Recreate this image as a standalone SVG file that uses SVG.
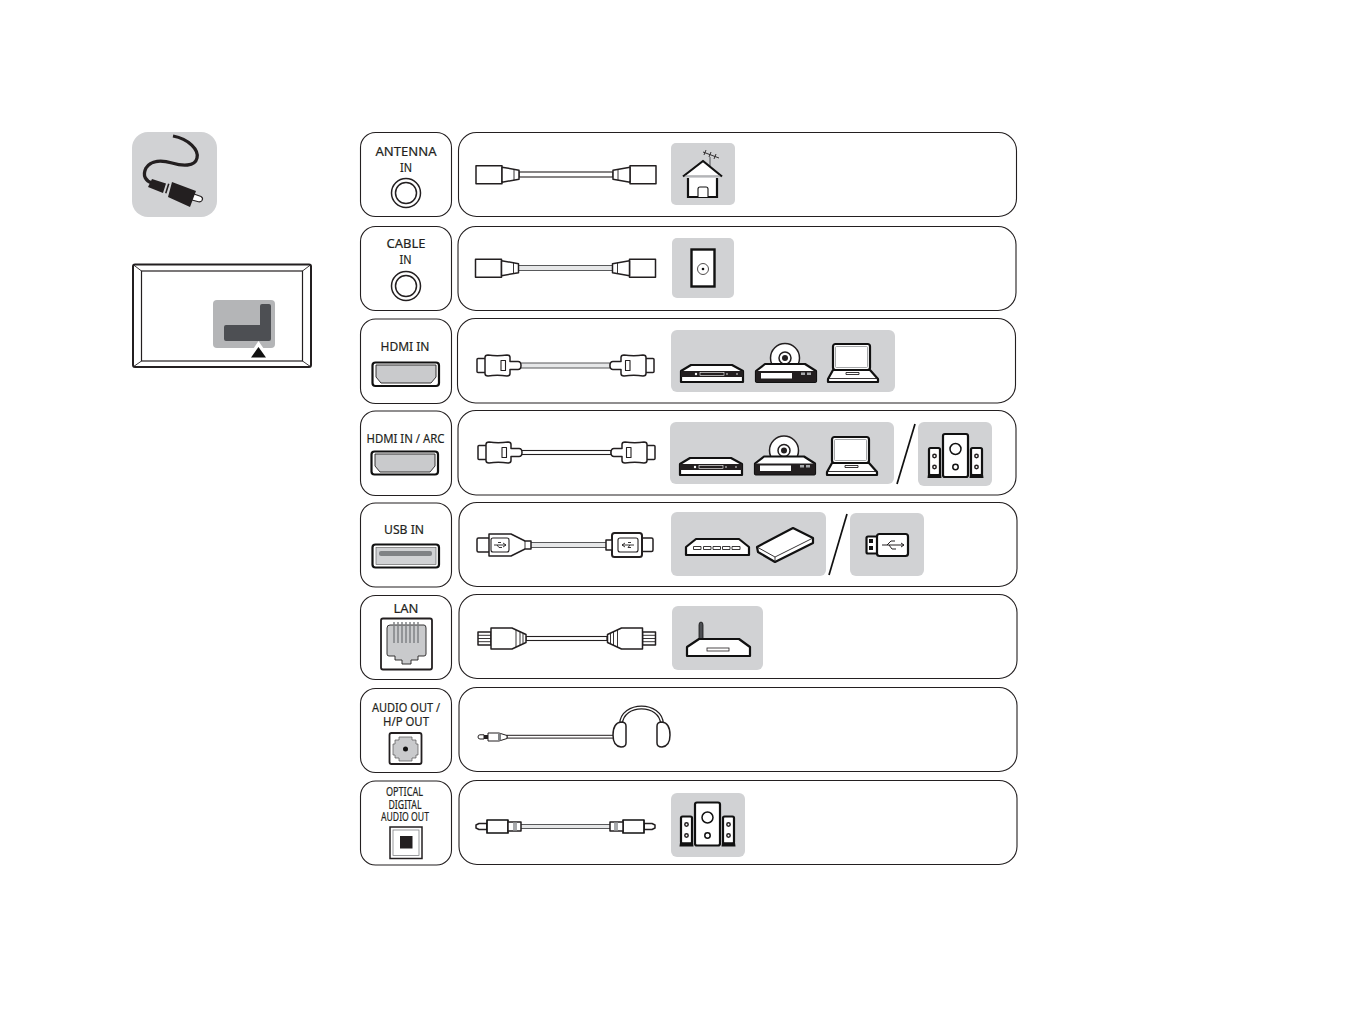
<svg xmlns="http://www.w3.org/2000/svg" xmlns:xlink="http://www.w3.org/1999/xlink" width="1365" height="1013" viewBox="0 0 1365 1013">
<style>
text{font-family:"Noto Sans","Open Sans","Liberation Sans",sans-serif;font-size:13px;font-weight:400;fill:#231f20;text-anchor:middle;stroke:#231f20;stroke-width:.2}
.box{fill:#fff;stroke:#231f20;stroke-width:1.1}
.panel{fill:#d1d2d4}
.k{fill:#fff;stroke:#231f20;stroke-width:1.5;stroke-linejoin:round}
.kk{fill:#fff;stroke:#111;stroke-width:2.2;stroke-linejoin:round}
.g{fill:#c9cacc;stroke:#231f20;stroke-width:.9}
.thin{fill:none;stroke:#231f20;stroke-width:.9}
.wire{fill:#fff;stroke:#231f20;stroke-width:1.1}
.wireg{fill:#e6e7e8;stroke:#58595b;stroke-width:1}
.slash{stroke:#111;stroke-width:1.7;fill:none}
</style>
<defs>
<g id="coax"><rect class="k" x="0" y="-9" width="26" height="18"/><path class="k" d="M26-7.500L43-4.500V4.500L26 7.500Z"/><path class="thin" d="M38-5.500V5.500"/></g>
<g id="hdmi"><rect class="k" x="0" y="-7" width="9" height="14" rx="1"/><path class="k" d="M8-8Q8-10.500 11-10.500Q20-9 30-10.500Q33-10.500 33-8V-4H41Q44-4 44 0Q44 4 41 4H33V8Q33 10.500 30 10.500Q20 9 11 10.500Q8 10.500 8 8Z"/><rect class="k" style="stroke-width:1.100" x="24" y="-5" width="4.500" height="10"/></g>
<g id="usb"><rect class="k" x="0" y="-7" width="13" height="14" rx="1.500"/><path class="k" d="M12-11H34L48-4H54V4H48L34 11H12Z"/><path class="thin" d="M48-4V4"/><rect class="k" style="stroke-width:1.100" x="14" y="-7" width="18" height="14" rx="2"/><path class="thin" d="M17 0H29M26-2L29 0L26 2M21-2.500H24M20 0L22 2.500H25"/></g>
<g id="lan"><path class="k" d="M0-6.500H13V6.500H0Z"/><path class="thin" d="M0-3.200H13M0 0H13M0 3.200H13"/><path class="k" d="M13-10.500H34L48-4V4L34 10.500H13Z"/><path class="thin" d="M38-8.500V8.500M42-6.500V6.500M45-5V5"/></g>
<g id="opt"><path class="k" d="M0-1.500L3-3H11V3H3L0 1.500Z"/><path class="kk" d="M11-6.500H32V6.500H11Z" style="stroke-width:1.700"/><path class="k" d="M32-4.500H45V4.500H32Z"/><rect x="37" y="-4" width="4" height="8" fill="#a7a9ac"/></g>
<g id="dvd"><path class="kk" d="M1 7L11 1H52L63 7V18H1Z"/><path fill="#231f20" d="M1 7H63V13H1Z"/><rect x="20" y="8.500" width="24" height="3" fill="none" stroke="#fff" stroke-width=".6"/><circle cx="16" cy="10" r="1.200" fill="#fff"/><circle cx="47" cy="10" r=".8" fill="#fff"/><circle cx="57" cy="10" r=".8" fill="#fff"/></g>
<g id="disc"><circle class="k" cx="30" cy="15" r="14.500"/><circle class="k" cx="30" cy="15" r="6"/><circle fill="#231f20" cx="30" cy="15" r="3"/><path class="kk" d="M1 28L10 21H50L61 28V38Q61 39 59 39H3Q1 39 1 38Z"/><path d="M1 28H61V39H1Z" fill="#231f20"/><rect x="6" y="30" width="31" height="5.500" fill="#fff"/><rect x="46" y="29.500" width="4" height="2.500" fill="#a7a9ac"/><rect x="52" y="29.500" width="4" height="2.500" fill="#a7a9ac"/></g>
<g id="laptop"><rect x="6" y="1" width="37" height="26" rx="2.500" class="kk"/><rect x="8.500" y="3.500" width="32" height="21" rx="1" fill="none" stroke="#808285" stroke-width=".7"/><path class="kk" d="M6 27H43L51 36V39H1V36Z"/><path class="thin" d="M2 35.500H50M19 29.500H32V31.500H19Z"/></g>
<g id="speakers"><rect class="kk" x="15" y="0" width="25" height="43" rx="2"/><circle class="kk" style="stroke-width:1.500" cx="27.500" cy="15" r="5.500"/><circle class="kk" style="stroke-width:1.500" cx="27.500" cy="33" r="2.700"/><rect class="kk" x="1" y="14" width="11" height="27" rx="1.500"/><rect class="kk" x="43" y="14" width="11" height="27" rx="1.500"/><circle class="k" cx="6.500" cy="22" r="1.700"/><circle class="k" cx="6.500" cy="33" r="1.700"/><circle class="k" cx="48.500" cy="22" r="1.700"/><circle class="k" cx="48.500" cy="33" r="1.700"/><path fill="#111" d="M0 40H13L13.500 44H-.5ZM42 40H55L55.500 44H41.500Z"/></g>
</defs>

<g id="cable-icon">
<rect class="panel" x="132" y="132" width="85" height="85" rx="16"/>
<path d="M173 136C189 139 199 150 197 158C195 167 182 166 172 163C162 160 151 160 146 168C142 176 146 181 152 183" fill="none" stroke="#231f20" stroke-width="3.300"/>
<path d="M194 194L201 196.500Q203.500 198 202 200.500Q200.500 202.500 197.500 201.500L192 200" fill="#fff" stroke="#231f20" stroke-width="1.100"/>
<path fill="#231f20" d="M148 187L152 179L166 183.500L163 193ZM166.500 193.500L169.500 184L168 183.500L165 193ZM168 197L172 182L196 191L190 207Z"/>
</g>
<g id="tv-position">
<rect x="133" y="264.500" width="178" height="102.500" rx="2" fill="#fff" stroke="#231f20" stroke-width="2"/>
<rect x="141.500" y="271" width="161" height="90" fill="#fff" stroke="#231f20" stroke-width="1.200"/>
<path class="thin" d="M133 264.500L141.500 271M311 264.500L302.500 271M133 367L141.500 361M311 367L302.500 361"/>
<rect x="213" y="300" width="62" height="48" rx="4" fill="#b4b5b7"/>
<path d="M226 325H260V306Q260 304 262 304H269Q271 304 271 306V339Q271 341 269 341H226Q224 341 224 339V327Q224 325 226 325Z" fill="#4d4f53"/>
<path d="M258.500 341L270 358H247Z" fill="#fff"/>
<path d="M258.500 347L266 357.500H251Z" fill="#111"/>
</g>

<g id="port-antenna"><rect class="box" x="360.500" y="132.500" width="91" height="84" rx="15"/><text x="406" y="156" textLength="61" lengthAdjust="spacingAndGlyphs">ANTENNA</text><text x="406" y="171.500" textLength="12" lengthAdjust="spacingAndGlyphs">IN</text><circle class="k" cx="406" cy="193" r="14.500"/><circle class="k" cx="406" cy="193" r="10.500"/></g>
<g id="port-cable"><rect class="box" x="360.500" y="226.500" width="91" height="84" rx="15"/><text x="406" y="247.500" textLength="39" lengthAdjust="spacingAndGlyphs">CABLE</text><text x="405.500" y="263.500" textLength="12" lengthAdjust="spacingAndGlyphs">IN</text><circle class="k" cx="406" cy="286" r="14.500"/><circle class="k" cx="406" cy="286" r="10.500"/></g>
<g id="port-hdmi"><rect class="box" x="360.500" y="319" width="91" height="84.500" rx="15"/><text x="405" y="350.500" textLength="49" lengthAdjust="spacingAndGlyphs">HDMI IN</text><rect x="372.500" y="362.500" width="66.500" height="23.500" rx="3" class="kk"/><path class="g" d="M376 365H436V377L431 383H381L376 377Z"/></g>
<g id="port-hdmi-arc"><rect class="box" x="360.500" y="411" width="91" height="84.500" rx="15"/><text x="405.500" y="442.500" textLength="78" lengthAdjust="spacingAndGlyphs">HDMI IN / ARC</text><rect x="371.500" y="451.500" width="66.500" height="23" rx="3" class="kk"/><path class="g" d="M375 454H435V466L430 472H380L375 466Z"/></g>
<g id="port-usb"><rect class="box" x="360.500" y="503" width="91" height="84" rx="15"/><text x="404" y="534" textLength="40" lengthAdjust="spacingAndGlyphs">USB IN</text><rect x="372.500" y="544.500" width="66.500" height="23" rx="3" class="kk"/><rect x="376" y="547.500" width="60" height="17" fill="#d1d2d4" stroke="#555" stroke-width=".6"/><rect x="379" y="551" width="53" height="5" rx="2" fill="#808285"/></g>
<g id="port-lan"><rect class="box" x="360.500" y="595.500" width="91" height="84" rx="15"/><text x="406" y="612.500" textLength="25" lengthAdjust="spacingAndGlyphs">LAN</text><rect x="381" y="618.500" width="51" height="51" rx="2" class="k" style="stroke-width:1.800"/><path class="g" d="M390 625H424Q426 625 426 628V654Q426 656 424 656H418V660H411V664H402V660H395V656H389Q387 656 387 654V628Q387 625 390 625Z"/><path d="M394 622V643M398 622V643M402 622V643M406 622V643M410 622V643M414 622V643M418 622V643" stroke="#808285" stroke-width="1.500" fill="none"/></g>
<g id="port-audio"><rect class="box" x="360.500" y="688.500" width="91" height="84" rx="15"/><text x="406" y="711.500" textLength="68" lengthAdjust="spacingAndGlyphs">AUDIO OUT /</text><text x="406" y="725.500" textLength="46" lengthAdjust="spacingAndGlyphs">H/P OUT</text><rect x="389.500" y="733" width="32" height="31" rx="2" class="k" style="stroke-width:1.800"/><path fill="#c9cacc" stroke="#555" stroke-width=".7" d="M399 737H412V740H416V744H418V755H416V758H412V761H399V758H395V755H393V744H395V740H399Z"/><circle cx="405.500" cy="749" r="2.500" fill="#111"/></g>
<g id="port-optical"><rect class="box" x="360.500" y="781" width="91" height="84" rx="15"/><text x="404.500" y="796" textLength="37" lengthAdjust="spacingAndGlyphs">OPTICAL</text><text x="405" y="808.500" textLength="33" lengthAdjust="spacingAndGlyphs">DIGITAL</text><text x="405" y="821" textLength="48" lengthAdjust="spacingAndGlyphs">AUDIO OUT</text><rect x="390" y="827" width="32" height="31.500" fill="#fff" stroke="#231f20" stroke-width="1.500"/><rect x="393" y="830" width="26" height="25.500" fill="#fff" stroke="#808285" stroke-width=".8"/><rect x="400" y="836" width="12.500" height="12.500" fill="#231f20"/></g>

<g id="row-antenna"><rect class="box" x="458.500" y="132.500" width="558" height="84" rx="18"/><rect class="panel" x="671" y="143" width="64" height="62" rx="5"/>
<path d="M710 176V157" stroke="#808285" stroke-width="1.600"/><path class="thin" d="M703 152L719 158M706 150L704 155M711 152L709 157M716 154L714 159"/>
<path d="M688 178V197H717V178" fill="#fff" stroke="#111" stroke-width="2.200"/><path d="M683 176.500L703 161L722 176.500" fill="#fff" stroke="#111" stroke-width="2.200" stroke-linejoin="round"/><path d="M685 176H720" stroke="#808285" stroke-width="1.200"/><path d="M698 197V189Q698 187 700 187H706Q708 187 708 189V197" fill="#fff" stroke="#111" stroke-width="1.100"/></g>
<g id="row-cable"><rect class="box" x="458" y="226.500" width="558" height="84" rx="18"/><rect class="panel" x="672" y="238" width="62" height="60" rx="5"/><rect x="691.500" y="249.500" width="23" height="37" fill="#fff" stroke="#111" stroke-width="2.400"/><circle cx="703" cy="269" r="5.500" fill="#fff" stroke="#231f20" stroke-width=".8"/><circle cx="703" cy="269" r="1.300" fill="#111"/></g>
<g id="row-hdmi"><rect class="box" x="457.500" y="318.500" width="558" height="84.500" rx="18"/><rect class="panel" x="671" y="330" width="224" height="62" rx="6"/><use xlink:href="#dvd" href="#dvd" x="680" y="364"/><use xlink:href="#disc" href="#disc" x="755" y="343"/><use xlink:href="#laptop" href="#laptop" x="827" y="343"/></g>
<g id="row-hdmi-arc"><rect class="box" x="458" y="410.500" width="558" height="84.500" rx="18"/><rect class="panel" x="670" y="422" width="224" height="62" rx="6"/><use xlink:href="#dvd" href="#dvd" x="679" y="457"/><use xlink:href="#disc" href="#disc" x="754" y="435.500"/><use xlink:href="#laptop" href="#laptop" x="826" y="436"/><path class="slash" d="M897 484L915 424"/><rect class="panel" x="918" y="422" width="74" height="64" rx="6"/><use xlink:href="#speakers" href="#speakers" x="928" y="434"/></g>
<g id="row-usb"><rect class="box" x="459" y="502.500" width="558" height="84" rx="18"/><rect class="panel" x="671" y="512" width="155" height="64" rx="6"/><path class="kk" d="M686 547L696 539H739L749 547V555H686Z"/><path class="thin" d="M693.500 546.500H701V549.500H693.500ZM703.500 546.500H711V549.500H703.500ZM713 546.500H720.500V549.500H713ZM722.500 546.500H730V549.500H722.500ZM732 546.500H740V549.500H732Z"/><path class="kk" d="M757 547L793 528L813 538V543L775 562L758 552Z"/><path class="thin" d="M757 547L775 557L813 538M775 557V562"/><path class="slash" d="M829 575L847 514"/><rect class="panel" x="850" y="513" width="74" height="63" rx="6"/><rect class="kk" x="866.500" y="536.500" width="12" height="17" rx="1.500"/><rect x="869" y="539" width="4" height="4" fill="#111"/><rect x="869" y="546" width="4" height="4" fill="#111"/><rect class="kk" x="877" y="534" width="31" height="22" rx="2.500"/><path fill="none" stroke="#231f20" d="M882 545H904M901 543L904 545L901 547M887 545L891 541H895M889 545L892 549H896"/></g>
<g id="row-lan"><rect class="box" x="459" y="594.500" width="558" height="84" rx="18"/><rect class="panel" x="672" y="606" width="91" height="64" rx="6"/><path d="M699 640V625Q699 622 701 622Q703 622 703 625V640Z" fill="#4d4f53" stroke="#111" stroke-width=".8"/><path class="kk" d="M687 647L699 639H739L750 647V656H687Z"/><rect x="707" y="648" width="22" height="3" fill="#fff" stroke="#231f20" stroke-width=".8"/></g>
<g id="row-audio"><rect class="box" x="459" y="687.500" width="558" height="84" rx="18"/></g>
<g id="row-optical"><rect class="box" x="459" y="780.500" width="558" height="84" rx="18"/><rect class="panel" x="671" y="793" width="74" height="64" rx="6"/><use xlink:href="#speakers" href="#speakers" x="680" y="802.500"/></g>

<g id="connectors">
<rect class="wire" x="519" y="172" width="94" height="5"/><use href="#coax" xlink:href="#coax" x="476" y="174.700"/><use href="#coax" xlink:href="#coax" transform="translate(656 174.700) scale(-1 1)"/>
<rect class="wireg" x="518" y="265.500" width="95" height="5"/><use href="#coax" xlink:href="#coax" x="475.500" y="268.200"/><use href="#coax" xlink:href="#coax" transform="translate(655.500 268.200) scale(-1 1)"/>
<rect class="wireg" x="520" y="363" width="90" height="5"/><use href="#hdmi" xlink:href="#hdmi" x="477" y="365.500"/><use href="#hdmi" xlink:href="#hdmi" transform="translate(654 365.500) scale(-1 1)"/>
<rect class="wire" x="521" y="450.500" width="90" height="4"/><use href="#hdmi" xlink:href="#hdmi" x="478" y="452.500"/><use href="#hdmi" xlink:href="#hdmi" transform="translate(655 452.500) scale(-1 1)"/>
<rect class="wireg" x="530" y="542.500" width="77" height="5"/><use href="#usb" xlink:href="#usb" x="477" y="545"/><rect class="k" x="640" y="538" width="13" height="13.500" rx="1.500"/><rect class="k" x="612" y="533" width="30" height="24" rx="2.500" style="stroke-width:2"/><path class="k" d="M606 540H612V550H606Z"/><rect class="k" style="stroke-width:1.100" x="618" y="538" width="20" height="14" rx="2"/><path class="thin" d="M622 545H634M625 543L622 545L625 547M628 542.500H631M630 545L628 547.500H631"/>
<rect class="wire" x="526" y="636.500" width="81" height="4"/><use href="#lan" xlink:href="#lan" x="478" y="638.500"/><use href="#lan" xlink:href="#lan" transform="translate(655.500 638.500) scale(-1 1)"/>
<rect x="507" y="735.300" width="107" height="2.800" fill="#fff" stroke="#231f20" stroke-width="1"/><path class="k" style="stroke-width:1" d="M480 734.800H484V739H480Q478 739 478 737Q478 734.800 480 734.800Z"/><rect x="484" y="735" width="4" height="4" fill="#231f20"/><path class="k" style="stroke-width:1" d="M488 733H499L507 735.500V738.500L499 741H488Z"/><rect x="498" y="733.500" width="3" height="7" fill="#808285"/>
<path d="M621 724C622 702 661 702 662 724" fill="none" stroke="#231f20" stroke-width="4"/><path d="M621 724C622 702 661 702 662 724" fill="none" stroke="#fff" stroke-width="1.500"/><path class="k" d="M621 722Q626 722 626 726V743Q626 747 621 747Q613 746 613 735Q613 723 621 722Z"/><path class="k" d="M662 722Q657 722 657 726V743Q657 747 662 747Q670 746 670 735Q670 723 662 722Z"/>
<rect class="wireg" x="520" y="824.500" width="91" height="4"/><use href="#opt" xlink:href="#opt" x="476" y="826.500"/><use href="#opt" xlink:href="#opt" transform="translate(655 826.500) scale(-1 1)"/>
</g>
</svg>
